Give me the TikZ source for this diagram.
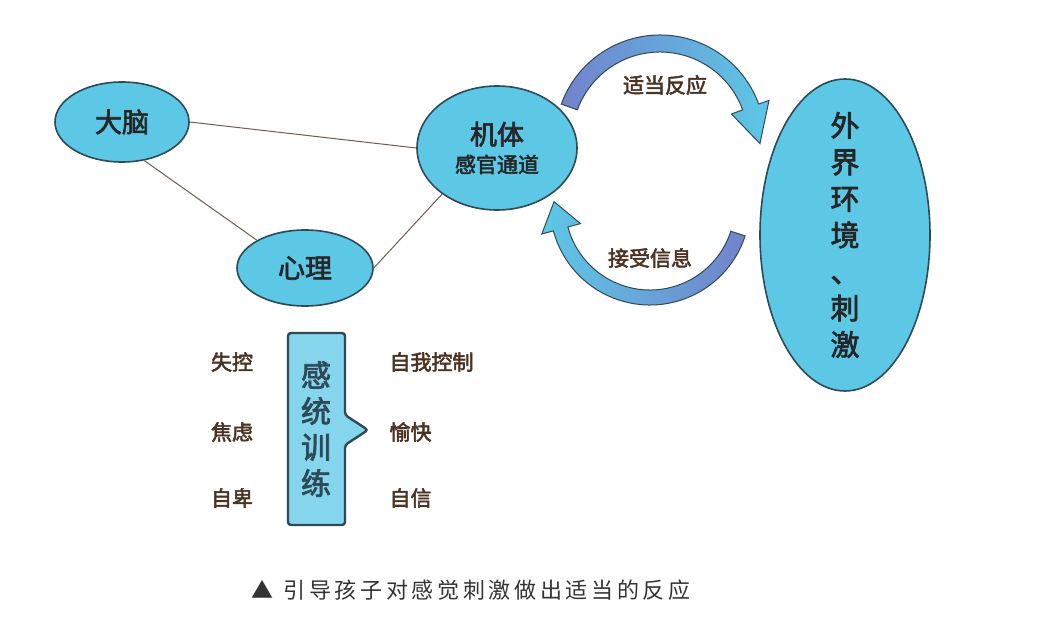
\documentclass[tikz,border=0pt]{standalone}
\usepackage{fontspec}
\newfontfamily\cjk{Noto Sans CJK SC}[FakeBold=2.5]
\newfontfamily\cjkc{Noto Sans CJK SC}
\usetikzlibrary{shapes.geometric}
\definecolor{ebl}{HTML}{5CC8E6}
\definecolor{pur}{HTML}{7282CC}
\definecolor{edge}{HTML}{2E4A58}
\definecolor{brn}{HTML}{4A3322}
\tikzset{
  ell/.style={ellipse,draw=edge,line width=1.6pt,fill=ebl,inner sep=0pt,font=\cjk\fontsize{27}{30}\selectfont,text=black!85},
  link/.style={draw=brn!80,line width=1pt},
  lab/.style={font=\cjk\fontsize{21}{24}\selectfont,text=brn},
  band/.style={draw=edge,line width=1pt,left color=pur,right color=ebl}
}
\begin{document}
\begin{tikzpicture}[x=1pt,y=1pt]
\useasboundingbox (0,0) rectangle (1047,625);
\node[ell,minimum width=134pt,minimum height=80pt] (brain) at (122,503) {大脑};
\node[ell,minimum width=160pt,minimum height=124pt] (body) at (497,477) {};
\node[font=\cjk\fontsize{27}{30}\selectfont,text=black!85,align=center] (bodyt) at (497,477) {机体\\[-2pt]{\fontsize{21}{24}\selectfont 感官通道}};
\node[ell,minimum width=136pt,minimum height=76pt] (mind) at (305,357) {心理};
\node[ell,minimum width=170pt,minimum height=312pt] (env) at (845,390) {};
\node[font=\cjk\fontsize{29}{36.5}\selectfont,text=black!85,align=center] (envt) at (845,390) {外\\界\\环\\境\\、\\刺\\激};
\draw[link] (brain.east) -- (body.west);
\draw[link] (brain.-60) -- (mind.150);
\draw[link] (mind.east) -- (body.-140);
\coordinate (tc) at (660,485);
\draw[band] ([shift={(160:105)}]tc) arc[start angle=160,end angle=20,radius=105]
  -- ([shift={(20:116)}]tc) -- ([shift={(-2:100)}]tc) -- ([shift={(20:76)}]tc)
  -- ([shift={(20:88)}]tc) arc[start angle=20,end angle=160,radius=88] -- cycle;
\node[lab] (t1) at (665,540) {适当反应};
\coordinate (bc) at (650,420);
\draw[band,left color=ebl,right color=pur] ([shift={(-18:100)}]bc) arc[start angle=-18,end angle=-165,radius=100]
  -- ([shift={(-165:112)}]bc) -- ([shift={(-182:96)}]bc) -- ([shift={(-165:72)}]bc)
  -- ([shift={(-165:85)}]bc) arc[start angle=-165,end angle=-18,radius=85] -- cycle;
\node[lab] (t2) at (650,367) {接受信息};
\draw[draw=edge,line width=2.4pt,fill=ebl!75!white,rounded corners=3pt]
  (288,100) -- (345,100) -- (345,180) -- (368,195) -- (345,210) -- (345,292) -- (288,292) -- cycle;
\node[font=\cjk\fontsize{30}{36}\selectfont,text=edge,align=center] (train) at (316,196) {感\\统\\训\\练};
\node[lab] (a1) at (232,263) {失控};
\node[lab] (a2) at (232,193) {焦虑};
\node[lab] (a3) at (232,127) {自卑};
\node[lab,anchor=west] (b1) at (386,263) {自我控制};
\node[lab,anchor=west] (b2) at (386,193) {愉快};
\node[lab,anchor=west] (b3) at (386,127) {自信};
\node[font=\cjkc\fontsize{22}{24}\selectfont,text=black!80,anchor=west] (cap) at (248,35) {▲\hspace{10pt}引\,导\,孩\,子\,对\,感\,觉\,刺\,激\,做\,出\,适\,当\,的\,反\,应};
\end{tikzpicture}
\end{document}
